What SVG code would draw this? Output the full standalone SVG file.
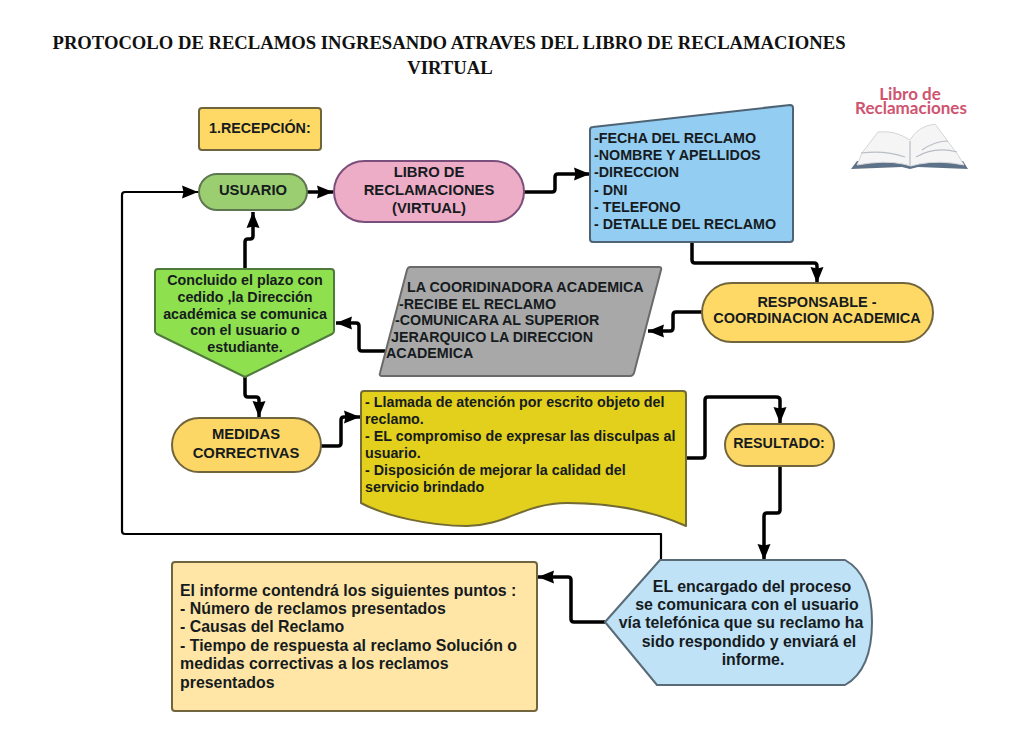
<svg xmlns="http://www.w3.org/2000/svg" width="1024" height="738" viewBox="0 0 1024 738">
<style>
text{font-family:"Liberation Sans",Arial,sans-serif;font-weight:700;fill:#161b1e}
.c{text-anchor:middle}
.s{stroke-width:2;stroke-linejoin:round}
.t{fill:none;stroke:#000;stroke-width:3.5;stroke-linejoin:round}
.thin{fill:none;stroke:#000;stroke-width:2.2;stroke-linejoin:round}
.f16{font-size:15.9px}.f15{font-size:14.8px}.f14{font-size:14.3px}
.ti{font-family:"Liberation Serif",serif;font-size:18.7px;fill:#111}
.lg{font-family:Lato,sans-serif;font-size:17px;fill:#cf5470}
</style>
<defs>
<marker id="a" markerUnits="userSpaceOnUse" markerWidth="20" markerHeight="16" refX="16" refY="7" orient="auto"><path d="M0,0.5L16,7L0,13.5L1.5,7Z" fill="#000"/></marker>
</defs>
<rect width="1024" height="738" fill="#fff"/>
<g id="title">
<text x="449" y="49" class="c ti" textLength="793" lengthAdjust="spacingAndGlyphs">PROTOCOLO DE RECLAMOS INGRESANDO ATRAVES DEL LIBRO DE RECLAMACIONES</text>
<text x="450" y="74" class="c ti">VIRTUAL</text>
</g>
<g id="logo">
<text x="910" y="100" class="c lg">Libro de</text>
<text x="911" y="114" class="c lg">Reclamaciones</text>
<path d="M851,169L857,161L963,161L968,169L918,167L910,169L902,167Z" fill="#5d7288"/>
<path d="M857,165Q885,160 903,164L911,166L919,164Q940,160 964,165L958,155L935,124Q918,126 910,140Q895,130 878,132L862,153Z" fill="#f5f5f6" stroke="#d4d6da"/>
<path d="M910,141L910,165M861,153Q885,150 905,157M916,157Q935,146 957,152M922,150Q935,141 948,141" fill="none" stroke="#b9bdc4" stroke-width="1.2"/>
</g>
<g id="connectors">
<path class="t" marker-end="url(#a)" d="M307,192H333"/>
<path class="thin" marker-end="url(#a)" d="M661,560V534H125Q122,534 122,531V195Q122,192 125,192H198"/>
<path class="t" marker-end="url(#a)" d="M245,269V242Q245,239 248,239H250Q253,239 253,236V212"/>
<path class="t" marker-end="url(#a)" d="M385,351H362Q359,351 359,348V326Q359,323 356,323H336"/>
<path class="t" marker-end="url(#a)" d="M524,192H552Q555,192 555,189V177Q555,174 558,174H590"/>
<path class="t" marker-end="url(#a)" d="M692,242V260Q692,263 695,263H814Q817,263 817,266V283"/>
<path class="t" marker-end="url(#a)" d="M702,312H676Q673,312 673,315V328Q673,331 670,331H648"/>
<path class="t" marker-end="url(#a)" d="M245,377V394Q245,397 248,397H256Q259,397 259,400V417"/>
<path class="t" marker-end="url(#a)" d="M321,446H338Q341,446 341,443V420Q341,417 344,417H360"/>
<path class="t" marker-end="url(#a)" d="M686,458H702Q705,458 705,455V400Q705,397 708,397H776Q780,397 780,400V423"/>
<path class="t" marker-end="url(#a)" d="M780,466V510Q780,513 777,513H767Q764,513 764,516V560"/>
<path class="t" marker-end="url(#a)" d="M605,622H574Q571,622 571,619V580Q571,577 568,577H538"/>
</g>
<g id="recepcion">
<rect class="s" x="199" y="108" width="122" height="42" rx="3" fill="#ffd966" stroke="#70653c"/>
<text x="209" y="133" class="f14">1.RECEPCIÓN:</text>
</g>
<g id="usuario">
<rect class="s" x="199" y="174" width="108" height="36" rx="18" fill="#9bce70" stroke="#5f7650"/>
<text x="253" y="195" class="c f15">USUARIO</text>
</g>
<g id="libro">
<rect class="s" x="334" y="161" width="190" height="61" rx="30.5" fill="#eeadc7" stroke="#7b4f7b"/>
<text x="429" y="177" class="c f15">LIBRO DE</text>
<text x="429" y="195" class="c f15">RECLAMACIONES</text>
<text x="429" y="213" class="c f15">(VIRTUAL)</text>
</g>
<g id="datos">
<path class="s" d="M593,127L790,105Q793,105 793,108V239Q793,242 790,242H593Q590,242 590,239V130Q590,127 593,127Z" fill="#94cdf2" stroke="#4e6474"/>
<g class="f14"><text x="594" y="143">-FECHA DEL RECLAMO</text>
<text x="594" y="160">-NOMBRE Y APELLIDOS</text>
<text x="594" y="177">-DIRECCION</text>
<text x="594" y="195">- DNI</text>
<text x="594" y="212">- TELEFONO</text>
<text x="594" y="229">- DETALLE DEL RECLAMO</text></g>
</g>
<g id="responsable">
<rect class="s" x="702" y="283" width="231" height="59" rx="29.5" fill="#ffd966" stroke="#70653c"/>
<text x="817" y="307" class="c" style="font-size:14.5px">RESPONSABLE -</text>
<text x="817" y="323" class="c" style="font-size:14.5px">COORDINACION ACADEMICA</text>
</g>
<g id="coordinadora">
<path class="s" d="M410,267H659Q662,267 661,270L634,373Q633,376 630,376H382Q379,376 380,373L407,270Q408,267 410,267Z" fill="#a8a8a8" stroke="#6a6a6a"/>
<g class="f14"><text x="407" y="292">LA COORIDINADORA ACADEMICA</text>
<text x="399" y="309">-RECIBE EL RECLAMO</text>
<text x="395" y="325">-COMUNICARA AL SUPERIOR</text>
<text x="391" y="342">JERARQUICO LA DIRECCION</text>
<text x="386" y="358">ACADEMICA</text></g>
</g>
<g id="concluido">
<path class="s" d="M158,269H331Q334,269 334,272V331Q334,333 332,334L245,377L157,334Q155,333 155,331V272Q155,269 158,269Z" fill="#8ee04f" stroke="#4f7a3c"/>
<g class="f14 c"><text x="245" y="285">Concluido el plazo con</text>
<text x="245" y="302">cedido ,la Dirección</text>
<text x="245" y="319">académica se comunica</text>
<text x="245" y="335">con el usuario o</text>
<text x="245" y="352">estudiante.</text></g>
</g>
<g id="medidas">
<rect class="s" x="172" y="418" width="149" height="54" rx="27" fill="#fdd766" stroke="#70653c"/>
<text x="246" y="439" class="c f15">MEDIDAS</text>
<text x="246" y="458" class="c f15">CORRECTIVAS</text>
</g>
<g id="llamada">
<path class="s" d="M364,391H683Q686,391 686,394V526C650,510 610,503 567,503C525,503 505,526 467,526C430,526 385,516 361,503V394Q361,391 364,391Z" fill="#e2d01c" stroke="#736b33"/>
<g class="f14"><text x="365" y="407">- Llamada de atención por escrito objeto del</text>
<text x="365" y="424">reclamo.</text>
<text x="365" y="441">- EL compromiso de expresar las disculpas al</text>
<text x="365" y="458">usuario.</text>
<text x="365" y="475">- Disposición de mejorar la calidad del</text>
<text x="365" y="492">servicio brindado</text></g>
</g>
<g id="resultado">
<rect class="s" x="725" y="424" width="109" height="42" rx="21" fill="#fdd766" stroke="#70653c"/>
<text x="779" y="448" class="c f14">RESULTADO:</text>
</g>
<g id="encargado">
<path class="s" d="M605,622L660,560H845Q872,575 872,622Q872,670 845,685H657Z" fill="#bfe2f6" stroke="#5a6b78"/>
<g class="f16 c"><text x="752" y="592">EL encargado del proceso</text>
<text x="747" y="610">se comunicara con el usuario</text>
<text x="741" y="628">vía telefónica que su reclamo ha</text>
<text x="749" y="647">sido respondido y enviará el</text>
<text x="753" y="665">informe.</text></g>
</g>
<g id="informe">
<rect class="s" x="172" y="562" width="365" height="149" rx="3" fill="#ffe6a6" stroke="#70653c"/>
<g class="f16"><text x="180" y="596">El informe contendrá los siguientes puntos :</text>
<text x="180" y="614">- Número de reclamos presentados</text>
<text x="180" y="632">- Causas del Reclamo</text>
<text x="180" y="651">- Tiempo de respuesta al reclamo Solución o</text>
<text x="180" y="669">medidas correctivas a los reclamos</text>
<text x="180" y="688">presentados</text></g>
</g>
</svg>
